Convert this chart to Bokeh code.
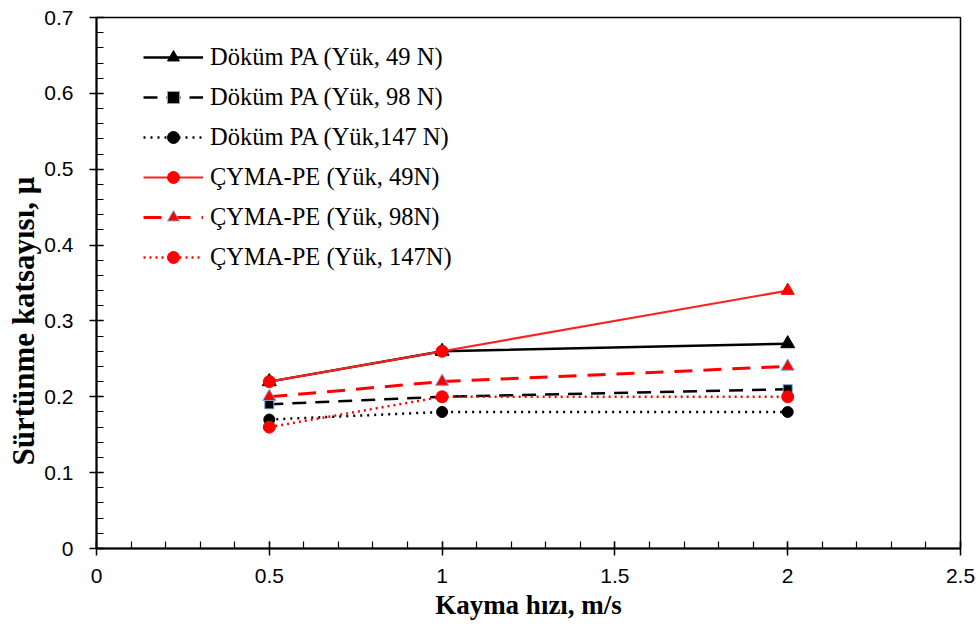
import numpy as np
from bokeh.plotting import figure
from bokeh.models import FixedTicker, Legend, LegendItem, Title
from bokeh.embed import file_html
from bokeh.resources import INLINE

# ---- data ----
speeds = [0.5, 1.0, 2.0]
pa_49 = [0.22, 0.26, 0.27]
pa_98 = [0.19, 0.20, 0.21]
pa_147 = [0.17, 0.18, 0.18]
pe_49 = [0.22, 0.26, 0.34]
pe_98 = [0.20, 0.22, 0.24]
pe_147 = [0.16, 0.20, 0.20]

series_labels = [
    "Döküm PA (Yük, 49 N)",
    "Döküm PA (Yük, 98 N)",
    "Döküm PA (Yük,147 N)",
    "ÇYMA-PE (Yük, 49N)",
    "ÇYMA-PE (Yük, 98N)",
    "ÇYMA-PE (Yük, 147N)",
]

x_ticks = [0, 0.5, 1, 1.5, 2, 2.5]
x_tick_labels = ["0", "0.5", "1", "1.5", "2", "2.5"]
y_ticks = [0, 0.1, 0.2, 0.3, 0.4, 0.5, 0.6, 0.7]
y_tick_labels = ["0", "0.1", "0.2", "0.3", "0.4", "0.5", "0.6", "0.7"]

x_title = "Kayma hızı, m/s"
y_title = "Sürtünme katsayısı, μ"

p = figure(width=976, height=626, x_range=(0, 2.5), y_range=(0, 0.7),
           output_backend="svg", toolbar_location=None,
           min_border_left=96, min_border_right=16, min_border_top=17,
           min_border_bottom=78)
p.grid.visible = False
p.outline_line_color = "black"
p.outline_line_width = 1.5
p.background_fill_color = "white"
p.border_fill_color = "white"

x_minor = list(np.round(np.arange(0, 2.5001, 0.1), 3))
y_minor = list(np.round(np.arange(0, 0.7001, 0.02), 3))
p.xaxis.ticker = FixedTicker(ticks=x_ticks, minor_ticks=x_minor)
p.yaxis.ticker = FixedTicker(ticks=y_ticks, minor_ticks=y_minor)
p.xaxis.major_label_overrides = dict(zip(x_ticks, x_tick_labels))
p.yaxis.major_label_overrides = dict(zip(y_ticks, y_tick_labels))

for ax in (p.xaxis[0], p.yaxis[0]):
    ax.axis_line_width = 2
    ax.axis_line_color = "black"
    ax.major_tick_in = 7
    ax.major_tick_out = 7
    ax.minor_tick_in = 7
    ax.minor_tick_out = 0
    ax.major_tick_line_width = 1.5
    ax.minor_tick_line_width = 1.2
    ax.major_label_text_font = "Liberation Sans"
    ax.major_label_text_font_size = "21px"
    ax.major_label_text_color = "black"
    ax.axis_label_text_font = "Liberation Serif"
    ax.axis_label_text_font_style = "bold"
    ax.axis_label_text_color = "black"

p.xaxis.axis_label = x_title
p.xaxis.axis_label_text_font_size = "27px"
p.xaxis.major_label_standoff = 13
p.yaxis.major_label_standoff = 16
p.xaxis.axis_label_standoff = 4

# y axis title as a side title so it can be shifted along the axis
ytitle = Title(text=y_title, align="left", offset=83,
               text_font="Liberation Serif", text_font_style="bold",
               text_font_size="31px", text_color="black", standoff=2)
p.add_layout(ytitle, "left")

blue_edge = "#7aa6d8"

styles = [
    (pa_49, "black", "solid", 2.5, "triangle", "black", "black", 14),
    (pa_98, "black", "14 9", 2.5, "square", "black", blue_edge, 9),
    (pa_147, "black", "2 5", 2.5, "circle", "black", "black", 11),
    (pe_49, "#ff2020", "solid", 2.2, "circle", "red", "red", 12),
    (pe_98, "red", "18 11", 3, "triangle", "red", blue_edge, 13),
    (pe_147, "red", "2 4", 2.5, "circle", "red", "red", 12),
]
# marker at last point of PE 49N series is a triangle in the source
last_marker_pe49 = "triangle"

items = []
for i, ((ys, col, dash, lw, mk, fill, edge, sz), lab) in enumerate(zip(styles, series_labels)):
    r1 = p.line(speeds, ys, line_color=col, line_dash=dash, line_width=lw)
    if i == 3:
        r2 = p.scatter(speeds[:2], ys[:2], marker=mk, size=sz, fill_color=fill,
                       line_color=edge, line_width=1)
        p.scatter(speeds[2:], ys[2:], marker=last_marker_pe49, size=13,
                  fill_color=fill, line_color=edge, line_width=1)
    else:
        r2 = p.scatter(speeds, ys, marker=mk, size=sz, fill_color=fill,
                       line_color=edge, line_width=1)
    items.append(LegendItem(label=lab, renderers=[r1, r2]))

legend = Legend(items=items, location=(47, 276))
legend.border_line_color = None
legend.background_fill_alpha = 0
legend.padding = 0
legend.margin = 0
legend.spacing = 10
legend.glyph_width = 60
legend.glyph_height = 30
legend.label_height = 30
legend.label_standoff = 7
legend.label_text_font = "Liberation Serif"
legend.label_text_font_size = "24.5px"
legend.label_text_color = "black"
p.add_layout(legend)

open("out.html", "w").write(file_html(p, INLINE))
